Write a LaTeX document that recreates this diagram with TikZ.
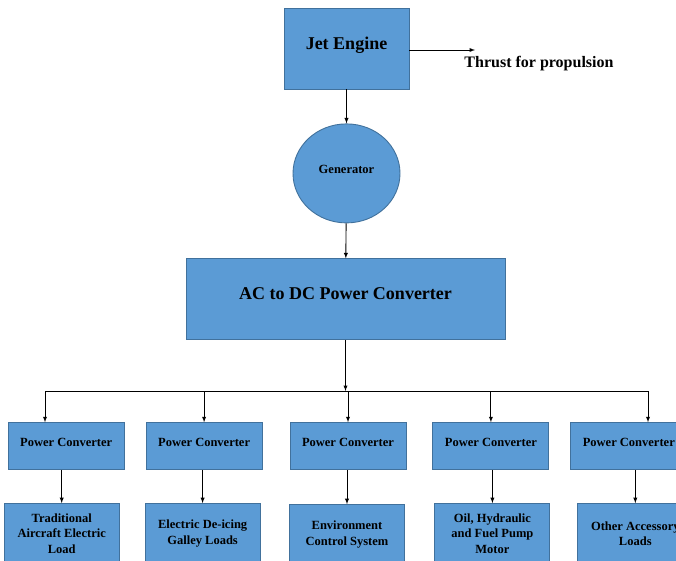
\documentclass[tikz,border=0pt]{standalone}
\usepackage{fontspec}
\setmainfont{Liberation Serif}
\usepackage{tikz}
\usetikzlibrary{shapes.geometric, arrows, positioning, calc}
\definecolor{boxblue}{HTML}{5B9BD5}
\definecolor{edgeblue}{HTML}{41719C}

\begin{document}
\begin{tikzpicture}[x=1pt, y=-1pt, node distance=35pt,
        block/.style={rectangle, draw=edgeblue, line width=0.9pt, fill=boxblue, align=center},
        conv/.style={block, minimum width=116pt, minimum height=47pt, text height=9pt, text depth=9pt, font=\bfseries\fontsize{12.5}{15}\selectfont},
        load/.style={block, minimum width=115pt, minimum height=60pt, font=\bfseries\fontsize{12.5}{15.5}\selectfont},
        link/.style={-latex, line width=0.9pt, black}]
        \useasboundingbox (0,0) rectangle (676,561);

        \node (jet) [block, minimum width=125pt, minimum height=81pt, text height=12.5pt, text depth=11pt, font=\bfseries\fontsize{18}{22}\selectfont] at (346.5,48.5) {Jet Engine};
        \node (gen) [ellipse, draw=edgeblue, line width=0.9pt, fill=boxblue, minimum width=107pt, minimum height=99pt, below=34pt of jet, text height=9pt, text depth=9pt, font=\bfseries\fontsize{12.5}{15}\selectfont] {Generator};
        \node (acdc) [block, minimum width=319pt, minimum height=81pt, below=of gen, xshift=-1pt, text height=12.5pt, text depth=12pt, font=\bfseries\fontsize{18}{22}\selectfont] {AC to DC Power Converter};

        \coordinate (thrust) at (475,50);
        \node (thrustlbl) at (539,64) [font=\bfseries\fontsize{16}{19}\selectfont] {Thrust for propulsion};

        % power converters
        \node (pc3) [conv, below=82pt of acdc, xshift=2.5pt] {Power Converter};
        \node (pc2) [conv, left=27pt of pc3] {Power Converter};
        \node (pc1) [conv, left=21pt of pc2] {Power Converter};
        \node (pc4) [conv, right=26pt of pc3] {Power Converter};
        \node (pc5) [conv, right=21pt of pc4] {Power Converter};

        % loads
        \node (ld1) [load, below=33pt of pc1, xshift=-4.5pt] {Traditional\\Aircraft Electric\\Load};
        \node (ld2) [load, below=33pt of pc2, xshift=-1.5pt] {Electric De-icing\\Galley Loads};
        \node (ld3) [load, below=34pt of pc3, xshift=-1pt] {Environment\\Control System};
        \node (ld4) [load, below=33pt of pc4, xshift=1.5pt] {Oil, Hydraulic\\and Fuel Pump\\Motor};
        \node (ld5) [load, below=33pt of pc5, xshift=6.5pt] {Other Accessory\\Loads};

        % bus
        \coordinate (b1) at (45,391);
        \coordinate (b5) at (648,391);

        \draw[link] (jet.east |- thrust) -- (thrust);
        \draw[link] (jet) -- (gen);
        \draw[link] (gen) -- (acdc);
        \draw[link] (acdc) -- (acdc.south |- b1);
        \draw[line width=0.9pt] (b1) -- (b5);
        \draw[link] (b1) -- (b1 |- pc1.north);
        \draw[link] (pc2.north |- b1) -- (pc2);
        \draw[link] (pc3.north |- b1) -- (pc3);
        \draw[link] (pc4.north |- b1) -- (pc4);
        \draw[link] (b5) -- (b5 |- pc5.north);
        \draw[link] (pc1.south -| ld1.north) -- (ld1);
        \draw[link] (pc2.south -| ld2.north) -- (ld2);
        \draw[link] (pc3.south -| ld3.north) -- (ld3);
        \draw[link] (pc4.south -| ld4.north) -- (ld4);
        \draw[link] (pc5.south -| ld5.north) -- (ld5);
\end{tikzpicture}
\end{document}
